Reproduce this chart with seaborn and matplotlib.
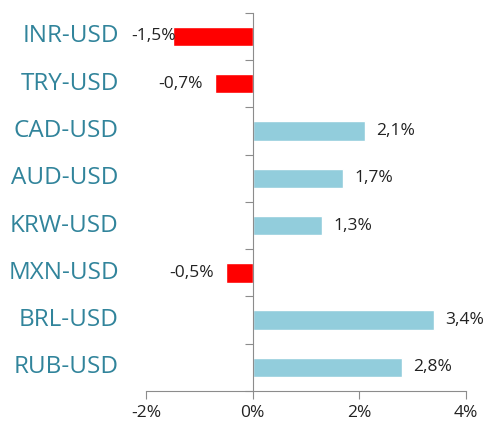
import matplotlib
matplotlib.use("Agg")
import matplotlib.pyplot as plt
import matplotlib.transforms as mtransforms
import seaborn as sns
import pandas as pd

# data
pairs = ["INR-USD", "TRY-USD", "CAD-USD", "AUD-USD", "KRW-USD", "MXN-USD", "BRL-USD", "RUB-USD"]
changes = [-1.5, -0.7, 2.1, 1.7, 1.3, -0.5, 3.4, 2.8]
x_ticks = [-2, 0, 2, 4]

df = pd.DataFrame({"pair": pairs, "change": changes})
colors = ["#FF0000" if v < 0 else "#92CDDC" for v in changes]

sns.set_style("white")
plt.rcParams["font.family"] = ["Open Sans", "DejaVu Sans"]

fig = plt.figure(figsize=(4.87, 4.26), dpi=100)
ax = fig.add_axes([0.2998, 0.082, 0.657, 0.888])

sns.barplot(data=df, y="pair", x="change", hue="pair", palette=colors,
            legend=False, width=0.41, orient="h", ax=ax, saturation=1)

grey = "#8C8C8C"
ax.set_xlim(-2, 4)
ax.set_ylim(7.5, -0.5)
ax.set_xticks(x_ticks)
ax.set_xticklabels([f"{t}%" for t in x_ticks], fontsize=12.5, color="#222222")
ax.set_xlabel("")
ax.set_ylabel("")

for s in ["top", "right"]:
    ax.spines[s].set_visible(False)
ax.spines["left"].set_position(("data", 0))
ax.spines["left"].set_color(grey)
ax.spines["bottom"].set_color(grey)

# ticks at category boundaries on the zero axis
ax.set_yticks([i - 0.5 for i in range(len(pairs) + 1)])
ax.set_yticklabels([])
ax.tick_params(axis="y", length=6, color=grey, direction="out", left=True)
ax.tick_params(axis="x", length=6, color=grey, direction="out", bottom=True, pad=4)

# category labels at left of plot
trans = mtransforms.blended_transform_factory(ax.transAxes, ax.transData)
for i, p in enumerate(pairs):
    ax.text(-0.085, i, p, transform=trans, ha="right", va="center",
            fontsize=17.5, color="#31849B")

# value labels
for i, v in enumerate(changes):
    lab = f"{v:.1f}%".replace(".", ",")
    if v >= 0:
        ax.annotate(lab, (v, i), xytext=(8, 0), textcoords="offset points",
                    ha="left", va="center", fontsize=12.5, color="#222222")
    else:
        off = 2 if v < -1 else -9
        ax.annotate(lab, (v, i), xytext=(off, 0), textcoords="offset points",
                    ha="right", va="center", fontsize=12.5, color="#222222")

fig.savefig("out.png", dpi=100)
